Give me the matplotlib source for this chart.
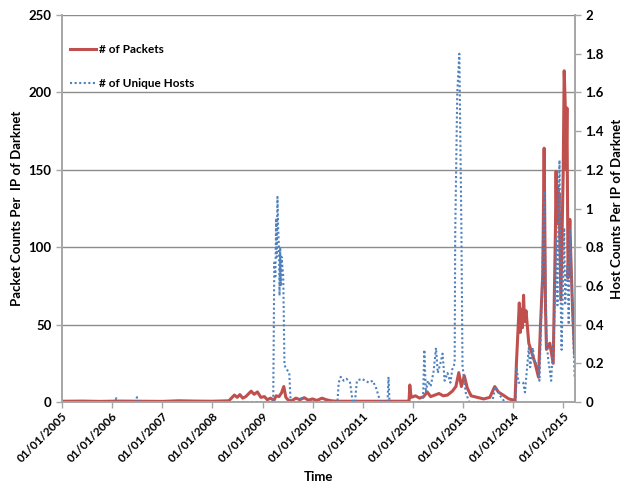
import pandas as pd
import matplotlib
matplotlib.use("Agg")
import matplotlib.pyplot as plt
import matplotlib.dates as mdates

plt.rcParams['font.family'] = ['Lato', 'DejaVu Sans']
plt.rcParams['font.weight'] = 'bold'

# packets per IP of darknet (left axis)
pkt_dates = ["2005-01-01", "2005-06-01", "2005-10-01", "2006-03-01", "2006-08-01",
             "2007-01-01", "2007-05-01", "2007-09-01", "2008-01-01", "2008-05-01",
             "2008-06-10", "2008-07-01", "2008-07-20", "2008-08-10", "2008-09-01",
             "2008-10-10", "2008-11-01", "2008-11-25", "2008-12-20", "2009-01-15",
             "2009-02-05", "2009-03-01", "2009-03-25", "2009-04-10", "2009-05-01",
             "2009-05-20", "2009-06-05", "2009-06-20", "2009-07-10", "2009-08-01",
             "2009-09-01", "2009-10-01", "2009-11-01", "2009-12-01", "2010-01-01",
             "2010-02-01", "2010-03-10", "2010-04-10", "2010-05-15", "2010-07-01",
             "2011-01-01", "2011-06-01", "2011-11-30", "2011-12-05", "2011-12-10",
             "2011-12-20", "2012-01-20", "2012-02-20", "2012-03-20", "2012-04-15",
             "2012-05-10", "2012-06-10", "2012-07-10", "2012-08-10", "2012-09-10",
             "2012-10-15", "2012-11-10", "2012-12-01", "2012-12-20", "2013-01-10",
             "2013-02-01", "2013-03-01", "2013-04-15", "2013-06-01", "2013-07-15",
             "2013-08-20", "2013-09-15", "2013-10-20", "2013-12-01", "2014-01-15",
             "2014-01-25", "2014-02-15", "2014-02-22", "2014-03-01", "2014-03-10",
             "2014-03-18", "2014-03-25", "2014-04-05", "2014-04-25", "2014-05-20",
             "2014-06-10", "2014-07-05", "2014-07-20", "2014-08-05", "2014-08-15",
             "2014-08-25", "2014-09-01", "2014-09-25", "2014-10-20", "2014-11-05",
             "2014-11-10", "2014-11-15", "2014-11-20", "2014-11-25", "2014-12-01",
             "2014-12-15", "2015-01-01", "2015-01-08", "2015-01-15", "2015-01-22",
             "2015-01-28", "2015-02-05", "2015-02-18", "2015-02-25", "2015-03-10",
             "2015-03-25"]
packets = [0.5, 0.6, 0.4, 0.6, 0.5,
           0.4, 0.8, 0.6, 0.5, 0.8,
           4.5, 3.0, 4.8, 2.5, 3.5,
           7.0, 5.0, 6.5, 3.0, 3.5,
           1.5, 2.5, 1.0, 4.0, 3.5,
           6.0, 10.0, 3.0, 1.0, 0.8,
           2.5, 1.5, 2.8, 1.2, 2.0,
           1.0, 2.5, 1.5, 0.8, 0.5,
           0.5, 0.5, 0.5, 0.8, 11.0,
           3.0, 4.0, 2.5, 3.5, 6.5,
           3.5, 4.5, 5.5, 4.0, 4.5,
           7.0, 10.0, 19.0, 10.0, 17.0,
           9.0, 4.0, 3.0, 2.0, 3.0,
           10.0, 6.5, 4.5, 2.0, 1.0,
           25, 64, 45, 60, 48,
           69, 52, 59, 38, 31,
           25, 16, 51, 83, 164,
           60, 34, 38, 25, 110,
           149, 115, 140, 118, 135,
           66, 150, 214, 194, 150,
           190, 80, 118, 95, 60,
           31]

# unique hosts per IP of darknet (right axis)
host_dates = ["2005-01-01", "2006-01-20", "2006-02-01", "2006-02-10", "2006-06-20",
              "2006-07-01", "2006-07-10", "2009-03-20", "2009-03-28", "2009-04-05",
              "2009-04-10", "2009-04-15", "2009-04-20", "2009-04-25", "2009-05-01",
              "2009-05-05", "2009-05-10", "2009-05-15", "2009-05-20", "2009-06-01",
              "2009-06-10", "2009-06-25", "2009-07-15", "2009-07-25", "2009-10-01",
              "2009-10-10", "2009-10-20", "2010-07-01", "2010-07-10", "2010-07-25",
              "2010-08-15", "2010-09-05", "2010-10-01", "2010-10-20", "2010-11-05",
              "2010-11-20", "2010-12-25", "2011-01-20", "2011-02-15", "2011-03-15",
              "2011-04-10", "2011-05-01", "2011-05-10", "2011-07-01", "2011-07-08",
              "2011-07-15", "2012-03-15", "2012-03-25", "2012-04-05", "2012-04-20",
              "2012-05-10", "2012-06-01", "2012-06-18", "2012-07-01", "2012-07-20",
              "2012-08-05", "2012-08-20", "2012-09-10", "2012-10-01", "2012-10-15",
              "2012-11-01", "2012-11-05", "2012-11-20", "2012-12-05", "2012-12-20",
              "2012-12-28", "2013-01-20", "2013-02-15", "2013-08-01", "2013-08-25",
              "2013-10-01", "2013-11-01", "2014-01-20", "2014-01-25", "2014-02-10",
              "2014-03-15", "2014-03-28", "2014-04-25", "2014-05-05", "2014-05-25",
              "2014-06-05", "2014-06-28", "2014-07-12", "2014-07-28", "2014-08-15",
              "2014-09-01", "2014-09-12", "2014-10-05", "2014-10-28", "2014-11-10",
              "2014-11-20", "2014-11-28", "2014-12-05", "2014-12-12", "2014-12-20",
              "2015-01-08", "2015-01-15", "2015-01-22", "2015-02-01", "2015-02-10",
              "2015-02-18", "2015-02-25", "2015-03-10", "2015-03-25"]
hosts = [0.0, 0.0, 0.02, 0.0, 0.0,
         0.025, 0.0, 0.0, 0.72, 0.65,
         0.95, 0.75, 1.06, 0.9, 0.79,
         0.55, 0.8, 0.6, 0.75, 0.65,
         0.19, 0.17, 0.15, 0.0, 0.0,
         0.02, 0.0, 0.0, 0.1, 0.13,
         0.11, 0.12, 0.1, 0.0, 0.0,
         0.11, 0.12, 0.11, 0.1, 0.11,
         0.07, 0.02, 0.0, 0.0, 0.13,
         0.0, 0.0, 0.27, 0.05, 0.11,
         0.08, 0.16, 0.28, 0.15, 0.2,
         0.25, 0.11, 0.15, 0.1, 0.17,
         0.2, 0.87, 1.6, 1.8, 0.9,
         0.19, 0.05, 0.0, 0.0, 0.08,
         0.03, 0.0, 0.0, 0.18, 0.1,
         0.1, 0.05, 0.28, 0.18, 0.28,
         0.2, 0.2, 0.11, 0.53, 1.09,
         0.34, 0.23, 0.11, 0.41, 0.85,
         0.5, 1.0, 1.25, 0.58, 0.27,
         0.9, 0.5, 0.61, 0.71, 0.4,
         0.89, 0.79, 0.44, 0.13]

pkt_x = pd.to_datetime(pkt_dates)
host_x = pd.to_datetime(host_dates)

fig = plt.figure(figsize=(6.23, 4.86), dpi=100)
ax = fig.add_axes([0.0995, 0.1728, 0.8235, 0.7962])
ax2 = ax.twinx()

red = "#C0504D"
blue = "#4F81BD"
grey = "#A6A6A6"

l1, = ax.plot(pkt_x, packets, color=red, lw=2.2, label="# of Packets")
l2, = ax2.plot(host_x, hosts, color=blue, lw=1.5, ls=(0, (1, 1.2)), label="# of Unique Hosts")

ax.set_ylim(0, 250)
ax.set_yticks(range(0, 251, 50))
ax2.set_ylim(0, 2)
ax2.set_yticks([0, 0.2, 0.4, 0.6, 0.8, 1, 1.2, 1.4, 1.6, 1.8, 2])
ax2.set_yticklabels(["0", "0.2", "0.4", "0.6", "0.8", "1", "1.2", "1.4", "1.6", "1.8", "2"])
ax.set_xlim(pd.Timestamp("2005-01-01"), pd.Timestamp("2015-03-28"))
ax.xaxis.set_major_locator(mdates.YearLocator())
ax.xaxis.set_major_formatter(mdates.DateFormatter("%m/%d/%Y"))
plt.setp(ax.get_xticklabels(), rotation=45, ha="right", rotation_mode="anchor", fontsize=8.5)

ax.grid(axis="y", color="#8C8C8C", lw=1)
ax.set_axisbelow(True)
for a in (ax, ax2):
    a.spines["top"].set_visible(False)
    for s in ("left", "right", "bottom"):
        a.spines[s].set_color(grey)
        a.spines[s].set_linewidth(1.2)
    a.tick_params(color=grey, length=4, width=1, labelsize=9.5)
ax.tick_params(axis="x", labelsize=8.5, pad=2)

ax.set_ylabel("Packet Counts Per  IP of Darknet", fontsize=9.5, fontweight="bold", labelpad=4)
ax2.set_ylabel("Host Counts Per IP of Darknet", fontsize=9.5, fontweight="bold", labelpad=5)
ax.set_xlabel("Time", fontsize=9.5, fontweight="bold", labelpad=5)

leg = ax2.legend(handles=[l1, l2], loc="upper left", bbox_to_anchor=(0.0, 0.947),
                 frameon=False, fontsize=8.5, labelspacing=2.0, handlelength=2.2,
                 handletextpad=0.2, borderaxespad=0.3)

fig.savefig("out.png", dpi=100)
